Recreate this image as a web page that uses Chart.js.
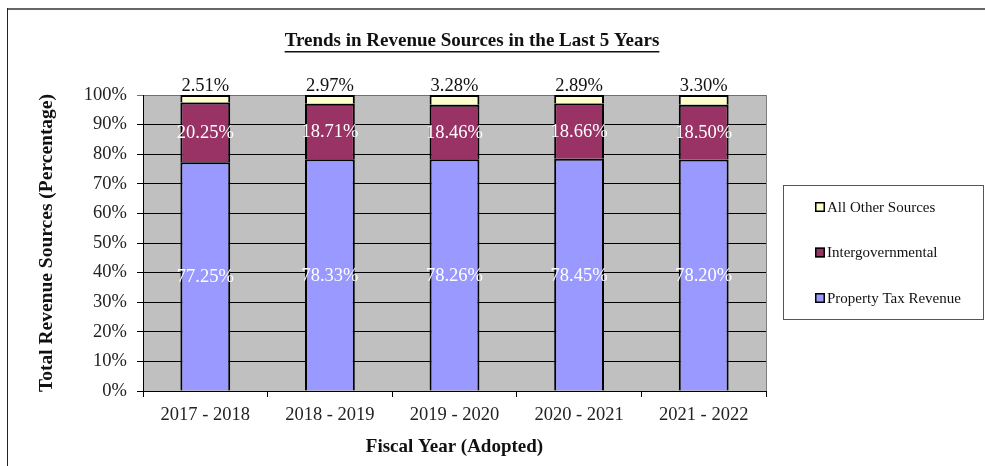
<!DOCTYPE html>
<html lang="en">
<head>
  <meta charset="UTF-8">
  <title>Trends in Revenue Sources in the Last 5 Years</title>
  <style>
    body { margin: 0; background: #fff; }
    canvas { display: block; }
  </style>
</head>
<body>
  <canvas id="revenueChart" width="985" height="466"></canvas>

  <script src="https://cdn.jsdelivr.net/npm/chart.js"></script>
  <script>
    // data
    const fiscalYears = ['2017 - 2018', '2018 - 2019', '2019 - 2020', '2020 - 2021', '2021 - 2022'];
    const propertyTax = [77.25, 78.33, 78.26, 78.45, 78.20];
    const intergovernmental = [20.25, 18.71, 18.46, 18.66, 18.50];
    const otherSources = [2.51, 2.97, 3.28, 2.89, 3.30];
    const yTicks = [0, 10, 20, 30, 40, 50, 60, 70, 80, 90, 100];

    const SERIF = "'Liberation Serif', 'Times New Roman', serif";

    // frame, plot background, title and right border
    const backdrop = {
      id: 'backdrop',
      beforeDraw(chart) {
        const { ctx, chartArea: a } = chart;
        ctx.save();
        ctx.fillStyle = '#fff';
        ctx.fillRect(0, 0, chart.width, chart.height);
        // outer frame (top + left only visible)
        ctx.fillStyle = '#666';
        ctx.fillRect(7, 8, chart.width - 7, 2);
        ctx.fillStyle = '#222';
        ctx.fillRect(7, 8, 1, chart.height - 8);
        // plot area
        ctx.fillStyle = '#c0c0c0';
        ctx.fillRect(a.left, a.top, a.right - a.left, a.bottom - a.top);
        ctx.restore();
      },
      afterDraw(chart) {
        const { ctx, chartArea: a } = chart;
        ctx.save();
        ctx.strokeStyle = '#808080';
        ctx.lineWidth = 1;
        ctx.beginPath();
        ctx.moveTo(a.right + 0.5, a.top);
        ctx.lineTo(a.right + 0.5, a.bottom);
        ctx.stroke();

        // title with underline
        const title = 'Trends in Revenue Sources in the Last 5 Years';
        ctx.font = 'bold 19px ' + SERIF;
        ctx.fillStyle = '#111';
        ctx.textAlign = 'center';
        ctx.textBaseline = 'middle';
        const tx = 472, ty = 41;
        ctx.fillText(title, tx, ty);
        const w = ctx.measureText(title).width;
        ctx.fillRect(tx - w / 2, 51, w, 1.5);
        ctx.restore();
      }
    };

    // value labels on the bars
    const barLabels = {
      id: 'barLabels',
      afterDatasetsDraw(chart) {
        const { ctx } = chart;
        ctx.save();
        ctx.font = '18.5px ' + SERIF;
        ctx.textAlign = 'center';
        ctx.textBaseline = 'middle';
        chart.data.datasets.forEach((ds, i) => {
          const meta = chart.getDatasetMeta(i);
          meta.data.forEach((bar, j) => {
            const txt = ds.data[j].toFixed(2) + '%';
            if (i === 2) {
              ctx.fillStyle = '#111';
              ctx.fillText(txt, bar.x, Math.min(bar.y, bar.base) - 9);
            } else {
              ctx.fillStyle = '#fff';
              ctx.fillText(txt, bar.x, (bar.y + bar.base) / 2 + 1);
            }
          });
        });
        ctx.restore();
      }
    };

    // boxed legend at the right
    const boxLegend = {
      id: 'boxLegend',
      afterDraw(chart) {
        const { ctx } = chart;
        ctx.save();
        ctx.strokeStyle = '#555';
        ctx.lineWidth = 1;
        ctx.strokeRect(783.5, 185.5, 200, 134);
        ctx.font = '15px ' + SERIF;
        ctx.textAlign = 'left';
        ctx.textBaseline = 'middle';
        const order = [2, 1, 0];
        order.forEach((di, k) => {
          const ds = chart.data.datasets[di];
          const y = 207 + k * 45.5;
          ctx.fillStyle = ds.backgroundColor;
          ctx.fillRect(815, y - 5, 10, 10);
          ctx.strokeStyle = '#000';
          ctx.lineWidth = 1.5;
          ctx.strokeRect(815.75, y - 4.25, 8.5, 8.5);
          ctx.fillStyle = '#111';
          ctx.fillText(ds.label, 827, y + 1);
        });
        ctx.restore();
      }
    };

    new Chart(document.getElementById('revenueChart'), {
      type: 'bar',
      data: {
        labels: fiscalYears,
        datasets: [
          { label: 'Property Tax Revenue', data: propertyTax, backgroundColor: '#9999ff' },
          { label: 'Intergovernmental', data: intergovernmental, backgroundColor: '#993366' },
          { label: 'All Other Sources', data: otherSources, backgroundColor: '#ffffcc' }
        ]
      },
      options: {
        responsive: false,
        animation: false,
        devicePixelRatio: 1,
        layout: { padding: { top: 95, right: 219, left: 0, bottom: 0 } },
        datasets: {
          bar: {
            categoryPercentage: 1,
            barPercentage: 0.4,
            borderColor: '#000',
            borderWidth: 2
          }
        },
        plugins: {
          legend: { display: false },
          title: { display: false },
          tooltip: { enabled: false }
        },
        scales: {
          x: {
            stacked: true,
            afterFit(scale) { scale.height = 75; },
            grid: {
              display: true,
              drawOnChartArea: false,
              offset: true,
              color: '#000',
              tickLength: 6
            },
            border: { display: true, color: '#000', width: 1 },
            ticks: {
              color: '#222',
              padding: 7,
              font: { family: SERIF, size: 18.5 }
            },
            title: {
              display: true,
              text: 'Fiscal Year (Adopted)',
              color: '#111',
              padding: { top: 0, bottom: 8 },
              font: { family: SERIF, size: 19, weight: 'bold' }
            }
          },
          y: {
            stacked: true,
            min: 0,
            max: 100,
            afterFit(scale) { scale.width = 143; },
            afterBuildTicks(scale) {
              scale.ticks = yTicks.map(v => ({ value: v }));
            },
            grid: {
              color: ctx => (ctx.tick && ctx.tick.value === 100 ? '#707070' : '#000'),
              lineWidth: 1,
              tickLength: 6
            },
            border: { display: true, color: '#000', width: 1 },
            ticks: {
              color: '#222',
              padding: 10,
              font: { family: SERIF, size: 18.5 },
              callback: v => v + '%'
            },
            title: {
              display: true,
              text: 'Total Revenue Sources (Percentage)',
              color: '#111',
              padding: { top: 35, bottom: 0 },
              font: { family: SERIF, size: 19.5, weight: 'bold' }
            }
          }
        }
      },
      plugins: [backdrop, barLabels, boxLegend]
    });
  </script>
</body>
</html>
